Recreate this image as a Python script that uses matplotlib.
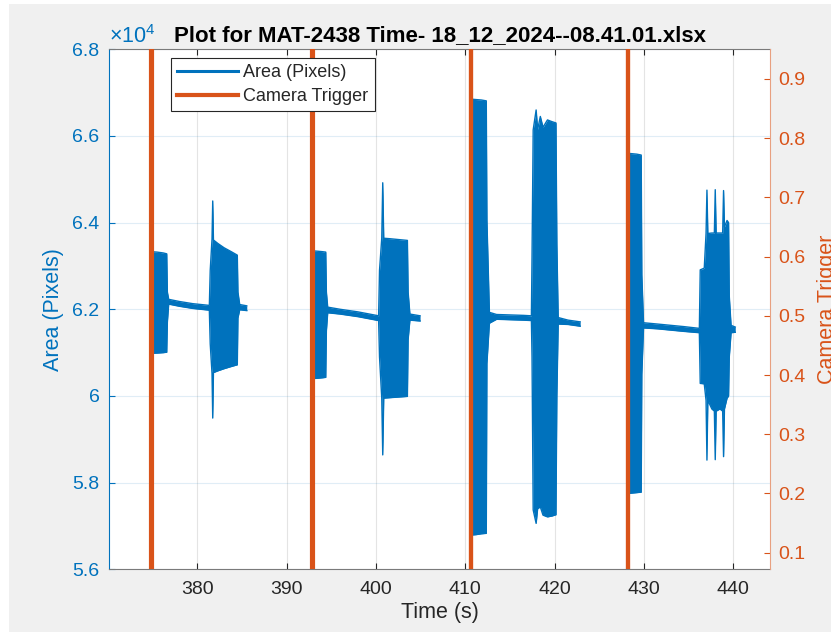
import numpy as np
import matplotlib.pyplot as plt
from matplotlib.patches import Rectangle
from matplotlib.ticker import FuncFormatter

plt.rcParams['font.family'] = ['Liberation Sans', 'DejaVu Sans']
plt.rcParams['mathtext.default'] = 'regular'

# camera trigger pulses (s)
trigger_times = [374.85, 392.88, 410.62, 428.16]
trigger_levels = [0, 1]

# area signal, envelope (upper / lower) for each recording cycle
cycle1_t = [374.85, 375.5, 376.2, 376.58, 376.65, 376.8, 378.0, 379.5, 381.35, 381.45,
            381.65, 381.73, 381.81, 382.3, 383.0, 383.8, 384.48, 384.55, 384.75, 385.54]
cycle1_hi = [63330, 63320, 63300, 63280, 62400, 62230, 62180, 62130, 62090, 62900,
             63620, 64500, 63600, 63520, 63420, 63330, 63250, 62400, 62110, 62080]
cycle1_lo = [60985, 60990, 61000, 61010, 61700, 62120, 62070, 62020, 61980, 61200,
             60520, 59490, 60540, 60580, 60630, 60680, 60720, 61800, 61990, 61970]

cycle2_t = [392.88, 393.5, 394.0, 394.38, 394.45, 394.6, 396.0, 398.0, 400.3, 400.4,
            400.65, 400.76, 400.87, 401.5, 402.5, 403.52, 403.6, 403.8, 404.94]
cycle2_hi = [63350, 63340, 63330, 63320, 62400, 62050, 62000, 61940, 61850, 62900,
             63640, 64920, 63640, 63630, 63610, 63590, 62400, 61890, 61850]
cycle2_lo = [60400, 60410, 60420, 60430, 61500, 61920, 61890, 61830, 61740, 60900,
             59950, 58640, 59950, 59960, 59975, 59990, 61300, 61750, 61730]

cycle3_t = [410.62, 411.2, 411.8, 412.35, 412.42, 412.7, 413.5, 415.0, 416.5, 417.4,
            417.47, 417.6, 417.93, 418.1, 418.4, 418.7, 419.2, 419.7, 420.15, 420.25,
            420.4, 421.5, 422.86]
cycle3_hi = [66850, 66840, 66830, 66810, 64060, 61930, 61880, 61870, 61860, 61850,
             63200, 66140, 66600, 66150, 66450, 66200, 66370, 66330, 66300, 63500,
             61810, 61750, 61710]
cycle3_lo = [56790, 56800, 56820, 56830, 60750, 61680, 61770, 61760, 61750, 61740,
             60900, 57370, 57060, 57400, 57440, 57250, 57210, 57230, 57260, 60000,
             61660, 61650, 61610]

cycle4_t = [428.16, 428.7, 429.2, 429.69, 429.76, 429.95, 431.5, 433.0, 434.5, 436.2,
            436.3, 436.75, 436.95, 437.05, 437.15, 437.6, 437.88, 437.98, 438.08, 438.5,
            438.81, 438.91, 439.01, 439.3, 439.47, 439.55, 439.75, 440.22]
cycle4_hi = [65600, 65590, 65580, 65560, 62800, 61690, 61660, 61630, 61600, 61560,
             62910, 62950, 63750, 64750, 63750, 63760, 63760, 64760, 63760, 63760,
             63760, 64740, 63900, 64050, 64000, 62300, 61630, 61590]
cycle4_lo = [57750, 57760, 57770, 57780, 60500, 61570, 61550, 61520, 61490, 61460,
             60290, 60280, 59900, 58520, 59900, 59700, 59650, 58530, 59650, 59700,
             59650, 58600, 59700, 59950, 60000, 60900, 61460, 61470]

cycles = [(cycle1_t, cycle1_hi, cycle1_lo), (cycle2_t, cycle2_hi, cycle2_lo),
          (cycle3_t, cycle3_hi, cycle3_lo), (cycle4_t, cycle4_hi, cycle4_lo)]

blue = '#0072BD'
orange = '#D95319'
dark = '#262626'

fig = plt.figure(figsize=(8.31, 6.32), dpi=100, facecolor='#f0f0f0')
# white strip on the left and top edge
fig.patches.append(Rectangle((0, 0), 9 / 831, 1, transform=fig.transFigure,
                             facecolor='white', edgecolor='none'))
fig.patches.append(Rectangle((0, 1 - 4 / 632), 1, 4 / 632, transform=fig.transFigure,
                             facecolor='white', edgecolor='none'))

ax1 = fig.add_axes([0.1315, 0.0992, 0.795, 0.8228])
ax1.set_facecolor('white')

# area signal (left axis)
for t, hi, lo in cycles:
    ax1.fill_between(t, lo, hi, color=blue, linewidth=0)
    ax1.plot(t, hi, color=blue, linewidth=1.0)
    ax1.plot(t, lo, color=blue, linewidth=1.0)
area_handle = plt.Line2D([], [], color=blue, linewidth=2.2)

ax1.set_xlim(370.15, 444.1)
ax1.set_ylim(56000, 68000)
ax1.set_yticks(np.arange(56000, 68001, 2000))
ax1.yaxis.set_major_formatter(FuncFormatter(lambda v, p: f'{v / 1e4:g}'))
ax1.set_xticks(np.arange(380, 441, 10))
ax1.grid(True, axis='x', color=dark, alpha=0.12, linewidth=0.8)
ax1.grid(True, axis='y', color=blue, alpha=0.12, linewidth=0.8)
ax1.set_axisbelow(True)

ax1.tick_params(axis='y', direction='in', length=4, colors=blue, labelsize=14, pad=7)
ax1.tick_params(axis='x', direction='in', length=4, colors=dark, labelsize=14,
                pad=8.5, top=True)
ax1.spines['left'].set_color(blue)
ax1.spines['bottom'].set_color('#7a7a7a')
ax1.spines['top'].set_color('#7a7a7a')
ax1.spines['right'].set_visible(False)
ax1.set_xlabel('Time (s)', fontsize=15.5, color=dark, labelpad=3)
ax1.set_ylabel('Area (Pixels)', fontsize=15.5, color=blue, labelpad=6)
# exponent of the left axis
ax1.text(0.0, 1.002, '×10$^{4}$', transform=ax1.transAxes, fontsize=15.5, color=blue,
         ha='left', va='bottom')

# camera trigger (right axis)
ax2 = ax1.twinx()
for tt in trigger_times:
    pulse_t = [tt, tt, tt + 0.05, tt + 0.05]
    pulse_v = [trigger_levels[0], trigger_levels[1], trigger_levels[1], trigger_levels[0]]
    trig_line, = ax2.plot(pulse_t, pulse_v, color=orange, linewidth=3)
ax2.set_ylim(0.072, 0.950)
ax2.set_yticks(np.arange(0.1, 0.91, 0.1))
ax2.yaxis.set_major_formatter(FuncFormatter(lambda v, p: f'{v:.1f}'))
ax2.tick_params(axis='y', direction='in', length=4, colors=orange, labelsize=14, pad=6)
ax2.spines['right'].set_color('#e8a080')
ax2.spines['left'].set_visible(False)
ax2.spines['top'].set_visible(False)
ax2.spines['bottom'].set_visible(False)
ax2.set_ylabel('Camera Trigger', fontsize=15.5, color=orange, rotation=90)
ax2.yaxis.set_label_coords(1.072, 0.5)

ax1.set_title('Plot for MAT-2438 Time- 18_12_2024--08.41.01.xlsx', fontsize=16,
              fontweight='bold', color='black', pad=6)

leg = ax2.legend([area_handle, trig_line], ['Area (Pixels)', 'Camera Trigger'],
                 loc='upper left', bbox_to_anchor=(0.093, 0.983), fontsize=13,
                 fancybox=False, edgecolor=dark, framealpha=1, borderpad=0.33,
                 handlelength=3.4, handletextpad=0.3, labelspacing=0.39,
                 borderaxespad=0)
leg.get_frame().set_linewidth(0.8)
for txt in leg.get_texts():
    txt.set_color(dark)

fig.savefig('out.png', dpi=100, facecolor=fig.get_facecolor())
